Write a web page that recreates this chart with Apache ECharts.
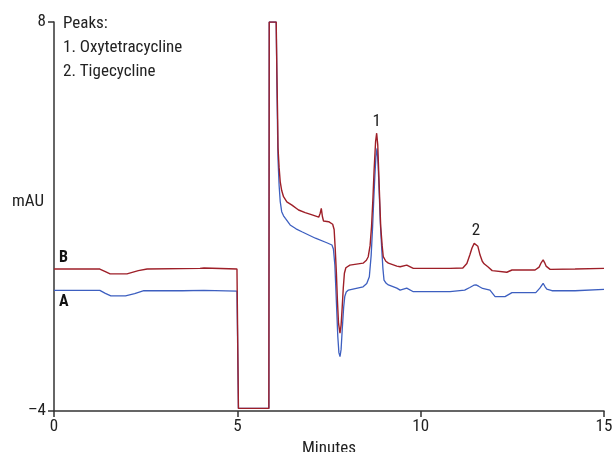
<!DOCTYPE html>
<html>
<head>
<meta charset="utf-8">
<script src="https://cdn.jsdelivr.net/npm/echarts@6/dist/echarts.min.js"></script>
<style>
html,body{margin:0;padding:0;background:#fff;}
#c{width:614px;height:452px;}
</style>
</head>
<body>
<div id="c"></div>
<script>
// Trace A (blue)
var timesA = [0, 1.25, 1.4, 1.55, 1.95, 2.2, 2.45, 3.5, 4.09, 4.99, 5.02, 5.03, 5.86, 5.87, 6.06, 6.07, 6.08, 6.10, 6.11, 6.14, 6.17, 6.21, 6.26, 6.31, 6.44, 6.60, 6.76, 7.13, 7.44, 7.58, 7.62, 7.66, 7.70, 7.74, 7.77, 7.80, 7.83, 7.86, 7.90, 7.93, 7.97, 8.03, 8.43, 8.53, 8.60, 8.65, 8.69, 8.72, 8.75, 8.78, 8.81, 8.84, 8.87, 8.90, 8.94, 8.97, 9.00, 9.06, 9.12, 9.35, 9.44, 9.62, 9.80, 10.8, 11.2, 11.34, 11.45, 11.51, 11.58, 11.69, 11.89, 11.96, 12.03, 12.30, 12.49, 13.14, 13.25, 13.34, 13.39, 13.44, 13.58, 14.21, 15.0];
var valuesA = [-0.28, -0.28, -0.37, -0.45, -0.45, -0.38, -0.29, -0.29, -0.28, -0.30, -0.30, -3.92, -3.92, 8.0, 8.0, 7.0, 6.0, 4.4, 3.75, 2.95, 2.46, 2.15, 2.02, 1.94, 1.74, 1.62, 1.53, 1.33, 1.19, 1.12, 1.0, 0.5, -0.6, -1.7, -2.2, -2.32, -2.1, -1.5, -0.8, -0.47, -0.33, -0.27, -0.17, -0.07, 0.14, 0.8, 1.69, 2.5, 3.23, 3.85, 4.10, 3.6, 2.72, 1.8, 0.97, 0.4, 0.04, -0.06, -0.11, -0.21, -0.27, -0.21, -0.32, -0.32, -0.27, -0.19, -0.12, -0.11, -0.15, -0.22, -0.27, -0.37, -0.47, -0.47, -0.35, -0.35, -0.21, -0.06, -0.16, -0.24, -0.29, -0.29, -0.25];
// Trace B (red)
var timesB = [0, 1.25, 1.4, 1.53, 1.99, 2.3, 2.54, 3.98, 4.09, 4.99, 5.02, 5.03, 5.86, 5.87, 6.06, 6.07, 6.08, 6.10, 6.11, 6.14, 6.17, 6.21, 6.26, 6.35, 6.49, 6.67, 6.85, 7.04, 7.22, 7.26, 7.29, 7.32, 7.35, 7.49, 7.60, 7.64, 7.67, 7.70, 7.73, 7.76, 7.80, 7.83, 7.86, 7.89, 7.92, 7.96, 8.07, 8.43, 8.52, 8.57, 8.62, 8.66, 8.70, 8.73, 8.77, 8.80, 8.83, 8.86, 8.89, 8.91, 8.95, 8.98, 9.05, 9.12, 9.35, 9.44, 9.62, 9.80, 10.8, 11.15, 11.26, 11.34, 11.40, 11.46, 11.51, 11.56, 11.62, 11.68, 11.73, 11.84, 11.89, 11.95, 12.00, 12.35, 12.49, 13.12, 13.23, 13.29, 13.34, 13.38, 13.42, 13.53, 14.21, 15.0];
var valuesB = [0.38, 0.38, 0.30, 0.23, 0.23, 0.33, 0.38, 0.40, 0.41, 0.38, 0.38, -3.92, -3.92, 8.0, 8.0, 7.2, 6.37, 5.0, 4.11, 3.5, 3.07, 2.8, 2.61, 2.45, 2.35, 2.20, 2.12, 2.05, 1.98, 2.1, 2.25, 2.0, 1.86, 1.84, 1.76, 1.6, 1.0, 0.3, -0.6, -1.3, -1.60, -1.35, -0.8, -0.2, 0.25, 0.42, 0.50, 0.56, 0.65, 0.76, 1.1, 1.69, 2.6, 3.43, 4.3, 4.57, 4.2, 3.23, 2.3, 1.69, 1.1, 0.76, 0.62, 0.56, 0.47, 0.45, 0.50, 0.40, 0.40, 0.41, 0.55, 0.81, 1.03, 1.17, 1.20, 1.08, 0.81, 0.62, 0.54, 0.44, 0.41, 0.33, 0.29, 0.28, 0.35, 0.35, 0.44, 0.58, 0.66, 0.58, 0.47, 0.37, 0.38, 0.40];
var xTickValues = [0, 5, 10, 15];
var yTickValues = [-4, 8];
var legendLines = ['Peaks:', '1. Oxytetracycline', '2. Tigecycline'];
var peakLabels = [{name: '1', t: 8.80, v: 4.57}, {name: '2', t: 11.51, v: 1.20}];

function zip(t, v) { return t.map(function (x, i) { return [x, v[i]]; }); }

var FONT = "'Liberation Sans Narrow', 'Roboto Condensed', 'Arial Narrow', Roboto, sans-serif";
var RED = '#9e1f28';
var BLUE = '#3d5fc0';

var chart = echarts.init(document.getElementById('c'), null, {renderer: 'canvas'});
chart.setOption({
  animation: false,
  backgroundColor: '#fff',
  grid: {left: 54, right: 10, top: 22, bottom: 41, containLabel: false, outerBoundsMode: 'none'},
  xAxis: {
    type: 'value', min: 0, max: 15, interval: 5,
    name: 'Minutes', nameLocation: 'middle', nameGap: 28,
    nameTextStyle: {fontFamily: FONT, fontSize: 17, color: '#222'},
    axisLine: {show: true, onZero: false, lineStyle: {color: '#333', width: 1.5}},
    axisTick: {show: true, length: 6, lineStyle: {color: '#333', width: 1.5}, customValues: xTickValues},
    axisLabel: {fontFamily: FONT, fontSize: 17, color: '#222', margin: 7, customValues: xTickValues},
    splitLine: {show: false}
  },
  yAxis: {
    type: 'value', min: -4, max: 8, interval: 4,
    axisLine: {show: true, onZero: false, lineStyle: {color: '#333', width: 1.5}},
    axisTick: {show: true, length: 6, lineStyle: {color: '#333', width: 1.5}, customValues: yTickValues},
    axisLabel: {fontFamily: FONT, fontSize: 17, color: '#222', margin: 8, customValues: yTickValues,
      formatter: function (v) { return v < 0 ? '\u2013' + Math.abs(v) : String(v); }},
    splitLine: {show: false}
  },
  graphic: [
    {type: 'text', left: 12, top: 193, style: {text: 'mAU', fontFamily: FONT, fontSize: 17, fill: '#222'}},
    {type: 'text', left: 63, top: 12, style: {text: legendLines.join('\n'), fontFamily: FONT, fontSize: 17, lineHeight: 24, fill: '#222'}},
    {type: 'text', left: 59, top: 250, style: {text: 'B', fontFamily: FONT, fontSize: 16, fontWeight: 'bold', fill: '#111'}},
    {type: 'text', left: 59, top: 294, style: {text: 'A', fontFamily: FONT, fontSize: 16, fontWeight: 'bold', fill: '#111'}}
  ],
  series: [
    {
      name: 'A', type: 'line', data: zip(timesA, valuesA), showSymbol: false, symbol: 'none',
      lineStyle: {color: BLUE, width: 1.3}, z: 2
    },
    {
      name: 'B', type: 'line', data: zip(timesB, valuesB), showSymbol: false, symbol: 'none',
      lineStyle: {color: RED, width: 1.4}, z: 3,
      markPoint: {
        symbol: 'circle', symbolSize: 0,
        label: {show: true, position: 'top', distance: 3, formatter: '{b}', fontFamily: FONT, fontSize: 17, color: '#222'},
        data: peakLabels.map(function (p) { return {name: p.name, coord: [p.t, p.v]}; })
      }
    }
  ]
});
</script>
</body>
</html>
